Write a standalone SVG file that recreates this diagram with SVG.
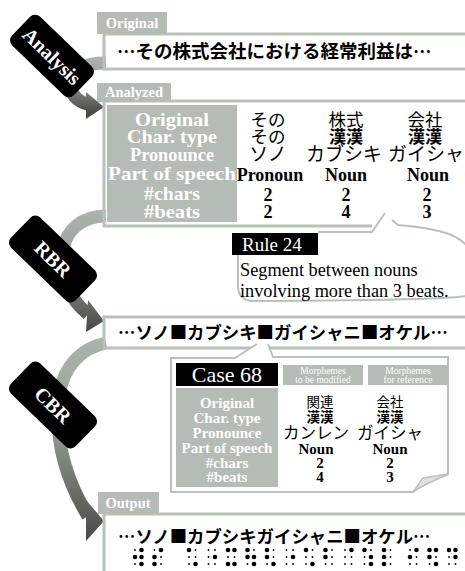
<svg xmlns="http://www.w3.org/2000/svg" width="465" height="571" viewBox="0 0 465 571">
<defs>
<style>
.tab{fill:#b4bcb5}
.tabt{font-family:"Liberation Serif",serif;font-weight:bold;font-size:14.5px;fill:#fff;text-anchor:middle}
.bd{fill:none;stroke:#b9c1ba;stroke-width:3}
.jp{font-family:"Noto Sans CJK JP",sans-serif;font-weight:bold;fill:#000}
.lab{font-family:"Liberation Serif",serif;font-weight:bold;fill:#fff;text-anchor:middle}
.val{font-family:"Liberation Serif",serif;font-weight:bold;fill:#000;text-anchor:middle}
.jv{font-family:"Noto Sans CJK JP",sans-serif;fill:#000;text-anchor:middle}
.hol{font-family:"Noto Sans CJK JP",sans-serif;font-weight:bold;fill:#000;text-anchor:middle}
.bt{font-family:"Liberation Serif",serif;font-weight:bold;font-size:20px;fill:#fff;text-anchor:middle}
.bub{fill:#fff;stroke:none}
.bubs{fill:none;stroke:#b9c1ba;stroke-width:2}
.ser{font-family:"Liberation Serif",serif;fill:#000}
</style>
<linearGradient id="g1" gradientUnits="userSpaceOnUse" x1="0" y1="58" x2="0" y2="112"><stop offset="0" stop-color="#a9b3aa"/><stop offset="0.4" stop-color="#9aa39b"/><stop offset="1" stop-color="#4a4a45"/></linearGradient>
<linearGradient id="g2" gradientUnits="userSpaceOnUse" x1="0" y1="212" x2="0" y2="330"><stop offset="0" stop-color="#a9b3aa"/><stop offset="0.4" stop-color="#9aa39b"/><stop offset="1" stop-color="#4a4a45"/></linearGradient>
<linearGradient id="g3" gradientUnits="userSpaceOnUse" x1="0" y1="340" x2="0" y2="540"><stop offset="0" stop-color="#a9b3aa"/><stop offset="0.4" stop-color="#9aa39b"/><stop offset="1" stop-color="#4a4a45"/></linearGradient>
</defs>

<g id="connectors">
  <path d="M106,63 C84,63 70,70 70,82 C70,95 78,102 90,105" fill="none" stroke="url(#g1)" stroke-width="13"/>
  <polygon points="86,92 104,107 86,119" fill="url(#g1)"/>
  <path d="M106,216 C82,216 66,230 63,250 C60,275 68,298 88,314" fill="none" stroke="url(#g2)" stroke-width="13"/>
  <polygon points="88,300 104,321 86,332" fill="url(#g2)"/>
  <path d="M106,343 C82,348 64,365 59,395 C55,430 60,470 88,516" fill="none" stroke="url(#g3)" stroke-width="13"/>
  <polygon points="86,500 104,521 86,541" fill="url(#g3)"/>
</g>

<g id="original">
  <path class="bd" d="M465,34 H104 V69 H465"/>
  <rect class="tab" x="97" y="12" width="70" height="22"/>
  <text class="tabt" x="132" y="28">Original</text>
  <text class="jp" x="117" y="58" font-size="18.5">…その株式会社における経常利益は…</text>
</g>

<g id="analysis-badge">
  <rect x="9" y="36" width="86" height="40" rx="7" transform="rotate(44 52 56)"/>
  <text class="bt" x="52" y="63" transform="rotate(44 52 56)">Analysis</text>
</g>

<g id="analyzed">
  <path class="bd" d="M465,101 H104 V226 H372"/>
  <rect class="tab" x="97" y="83" width="74" height="19"/>
  <text class="tabt" x="134" y="97">Analyzed</text>
  <rect class="tab" x="107" y="105" width="130" height="117"/>
  <text class="lab" x="172" y="126" font-size="19" textLength="74" lengthAdjust="spacingAndGlyphs">Original</text>
  <text class="lab" x="172" y="143" font-size="19" textLength="90" lengthAdjust="spacingAndGlyphs">Char. type</text>
  <text class="lab" x="172" y="161" font-size="19" textLength="84" lengthAdjust="spacingAndGlyphs">Pronounce</text>
  <text class="lab" x="172" y="180" font-size="19" textLength="128" lengthAdjust="spacingAndGlyphs">Part of speech</text>
  <text class="lab" x="172" y="200" font-size="19" textLength="56" lengthAdjust="spacingAndGlyphs">#chars</text>
  <text class="lab" x="172" y="218" font-size="19" textLength="56" lengthAdjust="spacingAndGlyphs">#beats</text>
  <text class="jv" x="268" y="126" font-size="17.5">その</text>
  <text class="jv" x="346" y="126" font-size="17.5">株式</text>
  <text class="jv" x="425" y="126" font-size="17.5">会社</text>
  <text class="jv" x="268" y="143" font-size="17.5">その</text>
  <text class="hol" x="346" y="143" font-size="17">漢漢</text>
  <text class="hol" x="425" y="143" font-size="17">漢漢</text>
  <text class="jv" x="268" y="161" font-size="19">ソノ</text>
  <text class="jv" x="344" y="161" font-size="19">カブシキ</text>
  <text class="jv" x="426" y="161" font-size="19">ガイシャ</text>
  <text class="val" x="270" y="181" font-size="18">Pronoun</text>
  <text class="val" x="346" y="181" font-size="18">Noun</text>
  <text class="val" x="428" y="181" font-size="18">Noun</text>
  <text class="val" x="268" y="201" font-size="18">2</text>
  <text class="val" x="346" y="201" font-size="18">2</text>
  <text class="val" x="427" y="201" font-size="18">2</text>
  <text class="val" x="268" y="218" font-size="18">2</text>
  <text class="val" x="346" y="218" font-size="18">4</text>
  <text class="val" x="427" y="218" font-size="18">3</text>
</g>

<g id="rule24">
  <path class="bub" d="M238,232 L372,232 L385,213 L398,225 C430,228 455,232 465,245 L465,296 C440,300 300,301 252,301 C242,300 238,294 238,286 Z"/>
  <path class="bubs" d="M318,232 L372,232 L385,213 M392,220 L398,225 C430,228 455,232 466,245 M466,296 C440,300 300,301 252,301 C242,300 238,294 238,286 L238,254"/>
  <rect x="232" y="233" width="86" height="22" fill="#000"/>
  <text class="ser" x="242" y="251" font-size="19" style="fill:#fff">Rule 24</text>
  <text class="ser" x="240" y="276" font-size="18.3">Segment between nouns</text>
  <text class="ser" x="240" y="297" font-size="18.3">involving more than 3 beats.</text>
</g>

<g id="rbr-badge">
  <rect x="8" y="238" width="90" height="42" rx="7" transform="rotate(44 53 259)"/>
  <text class="bt" x="53" y="266" transform="rotate(44 53 259)">RBR</text>
</g>

<g id="rbr-result">
  <path class="bd" d="M465,317 H104 V348 H465"/>
  <text class="jp" x="118" y="339" font-size="17.4">…ソノ■カブシキ■ガイシャニ■オケル…</text>
</g>

<g id="case68">
  <path class="bub" d="M171,358 L235,358 L257,344 L268,344 L273,357 L448,357 L448,474 C435,480 420,486 413,492 L171,492 Z"/>
  <path class="bubs" d="M235,358 L257,344 M268,344 L273,357 L448,357 L448,474 C435,480 420,486 413,492 L171,492 L171,358 L235,358"/>
  <path d="M413,492 C418,486 421,480 423,478 L448,474 C435,480 420,486 413,492 Z" fill="#dfe3df" stroke="#b9c1ba" stroke-width="1.5"/>
  <rect x="176" y="363" width="102" height="23" fill="#000"/>
  <text class="ser" x="227" y="382" font-size="22" text-anchor="middle" style="fill:#fff">Case 68</text>
  <rect class="tab" x="283" y="365" width="80" height="20"/>
  <rect class="tab" x="368" y="365" width="80" height="20"/>
  <text class="ser" x="323" y="374" font-size="9.5" text-anchor="middle" style="fill:#fff">Morphemes</text>
  <text class="ser" x="323" y="383" font-size="9.5" text-anchor="middle" style="fill:#fff">to be modified</text>
  <text class="ser" x="408" y="374" font-size="9.5" text-anchor="middle" style="fill:#fff">Morphemes</text>
  <text class="ser" x="408" y="383" font-size="9.5" text-anchor="middle" style="fill:#fff">for reference</text>
  <rect class="tab" x="176" y="388" width="102" height="99"/>
  <text class="lab" x="227" y="408" font-size="15">Original</text>
  <text class="lab" x="227" y="423" font-size="15">Char. type</text>
  <text class="lab" x="227" y="438" font-size="15">Pronounce</text>
  <text class="lab" x="227" y="453" font-size="15">Part of speech</text>
  <text class="lab" x="227" y="468" font-size="15">#chars</text>
  <text class="lab" x="227" y="482" font-size="15">#beats</text>
  <text class="jv" x="320" y="407" font-size="13.5">関連</text>
  <text class="jv" x="390" y="407" font-size="13.5">会社</text>
  <text class="hol" x="320" y="422" font-size="13.5">漢漢</text>
  <text class="hol" x="390" y="422" font-size="13.5">漢漢</text>
  <text class="jv" x="316" y="439" font-size="16.5">カンレン</text>
  <text class="jv" x="390" y="439" font-size="16.5">ガイシャ</text>
  <text class="val" x="316" y="454" font-size="15">Noun</text>
  <text class="val" x="390" y="454" font-size="15">Noun</text>
  <text class="val" x="320" y="468" font-size="15">2</text>
  <text class="val" x="390" y="468" font-size="15">2</text>
  <text class="val" x="320" y="482" font-size="15">4</text>
  <text class="val" x="390" y="482" font-size="15">3</text>
</g>

<g id="cbr-badge">
  <rect x="8" y="384" width="90" height="42" rx="7" transform="rotate(44 53 405)"/>
  <text class="bt" x="53" y="412" transform="rotate(44 53 405)">CBR</text>
</g>

<g id="output">
  <path class="bd" d="M465,514 H104 V571"/>
  <rect class="tab" x="98" y="492" width="61" height="22"/>
  <text class="tabt" x="128" y="508">Output</text>
  <text class="jp" x="118" y="543" font-size="17.4">…ソノ■カブシキガイシャニ■オケル…</text>
  <g id="braille" fill="#000">
    <g class="b">
      <circle cx="135" cy="557" r="2.3"/><circle cx="141.5" cy="550" r="2.3"/><circle cx="141.5" cy="557" r="2.3"/><circle cx="141.5" cy="564" r="2.3"/>
      <circle cx="154.5" cy="557" r="2.3"/><circle cx="154.5" cy="564" r="2.3"/><circle cx="161" cy="550" r="2.3"/>
      <circle cx="189" cy="550" r="2.3"/><circle cx="195.5" cy="564" r="2.3"/>
      <circle cx="215" cy="557" r="2.3"/>
      <circle cx="228" cy="550" r="2.3"/><circle cx="228" cy="564" r="2.3"/><circle cx="234.5" cy="550" r="2.3"/><circle cx="234.5" cy="564" r="2.3"/>
      <circle cx="247.5" cy="550" r="2.3"/><circle cx="247.5" cy="557" r="2.3"/><circle cx="254" cy="557" r="2.3"/><circle cx="254" cy="564" r="2.3"/>
      <circle cx="267" cy="550" r="2.3"/><circle cx="267" cy="557" r="2.3"/><circle cx="273.5" cy="564" r="2.3"/>
      <circle cx="293" cy="557" r="2.3"/>
      <circle cx="306" cy="550" r="2.3"/><circle cx="312.5" cy="564" r="2.3"/>
      <circle cx="325.5" cy="550" r="2.3"/><circle cx="325.5" cy="557" r="2.3"/>
      <circle cx="351.5" cy="550" r="2.3"/>
      <circle cx="364.5" cy="550" r="2.3"/><circle cx="371" cy="557" r="2.3"/><circle cx="371" cy="564" r="2.3"/>
      <circle cx="384" cy="550" r="2.3"/><circle cx="384" cy="557" r="2.3"/><circle cx="384" cy="564" r="2.3"/>
      <circle cx="410" cy="557" r="2.3"/><circle cx="416.5" cy="550" r="2.3"/>
      <circle cx="429.5" cy="550" r="2.3"/><circle cx="429.5" cy="557" r="2.3"/><circle cx="436" cy="550" r="2.3"/><circle cx="436" cy="564" r="2.3"/>
      <circle cx="449" cy="550" r="2.3"/><circle cx="455.5" cy="550" r="2.3"/><circle cx="455.5" cy="557" r="2.3"/>
    </g>
    <g class="s">
      <circle cx="135" cy="550" r="0.9"/><circle cx="135" cy="564" r="0.9"/>
      <circle cx="154.5" cy="550" r="0.9"/><circle cx="161" cy="557" r="0.9"/><circle cx="161" cy="564" r="0.9"/>
      <circle cx="189" cy="557" r="0.9"/><circle cx="189" cy="564" r="0.9"/><circle cx="195.5" cy="550" r="0.9"/><circle cx="195.5" cy="557" r="0.9"/>
      <circle cx="208.5" cy="550" r="0.9"/><circle cx="208.5" cy="557" r="0.9"/><circle cx="208.5" cy="564" r="0.9"/><circle cx="215" cy="550" r="0.9"/><circle cx="215" cy="564" r="0.9"/>
      <circle cx="228" cy="557" r="0.9"/><circle cx="234.5" cy="557" r="0.9"/>
      <circle cx="247.5" cy="564" r="0.9"/><circle cx="254" cy="550" r="0.9"/>
      <circle cx="267" cy="564" r="0.9"/><circle cx="273.5" cy="550" r="0.9"/><circle cx="273.5" cy="557" r="0.9"/>
      <circle cx="286.5" cy="550" r="0.9"/><circle cx="286.5" cy="557" r="0.9"/><circle cx="286.5" cy="564" r="0.9"/><circle cx="293" cy="550" r="0.9"/><circle cx="293" cy="564" r="0.9"/>
      <circle cx="306" cy="557" r="0.9"/><circle cx="306" cy="564" r="0.9"/><circle cx="312.5" cy="550" r="0.9"/><circle cx="312.5" cy="557" r="0.9"/>
      <circle cx="325.5" cy="564" r="0.9"/><circle cx="332" cy="550" r="0.9"/><circle cx="332" cy="557" r="0.9"/><circle cx="332" cy="564" r="0.9"/>
      <circle cx="345" cy="550" r="0.9"/><circle cx="345" cy="557" r="0.9"/><circle cx="345" cy="564" r="0.9"/><circle cx="351.5" cy="557" r="0.9"/><circle cx="351.5" cy="564" r="0.9"/>
      <circle cx="364.5" cy="557" r="0.9"/><circle cx="364.5" cy="564" r="0.9"/><circle cx="371" cy="550" r="0.9"/>
      <circle cx="390.5" cy="550" r="0.9"/><circle cx="390.5" cy="557" r="0.9"/><circle cx="390.5" cy="564" r="0.9"/>
      <circle cx="410" cy="550" r="0.9"/><circle cx="410" cy="564" r="0.9"/><circle cx="416.5" cy="557" r="0.9"/><circle cx="416.5" cy="564" r="0.9"/>
      <circle cx="429.5" cy="564" r="0.9"/><circle cx="436" cy="557" r="0.9"/>
      <circle cx="449" cy="557" r="0.9"/><circle cx="449" cy="564" r="0.9"/><circle cx="455.5" cy="564" r="0.9"/>
    </g>
  </g>
</g>
</svg>
